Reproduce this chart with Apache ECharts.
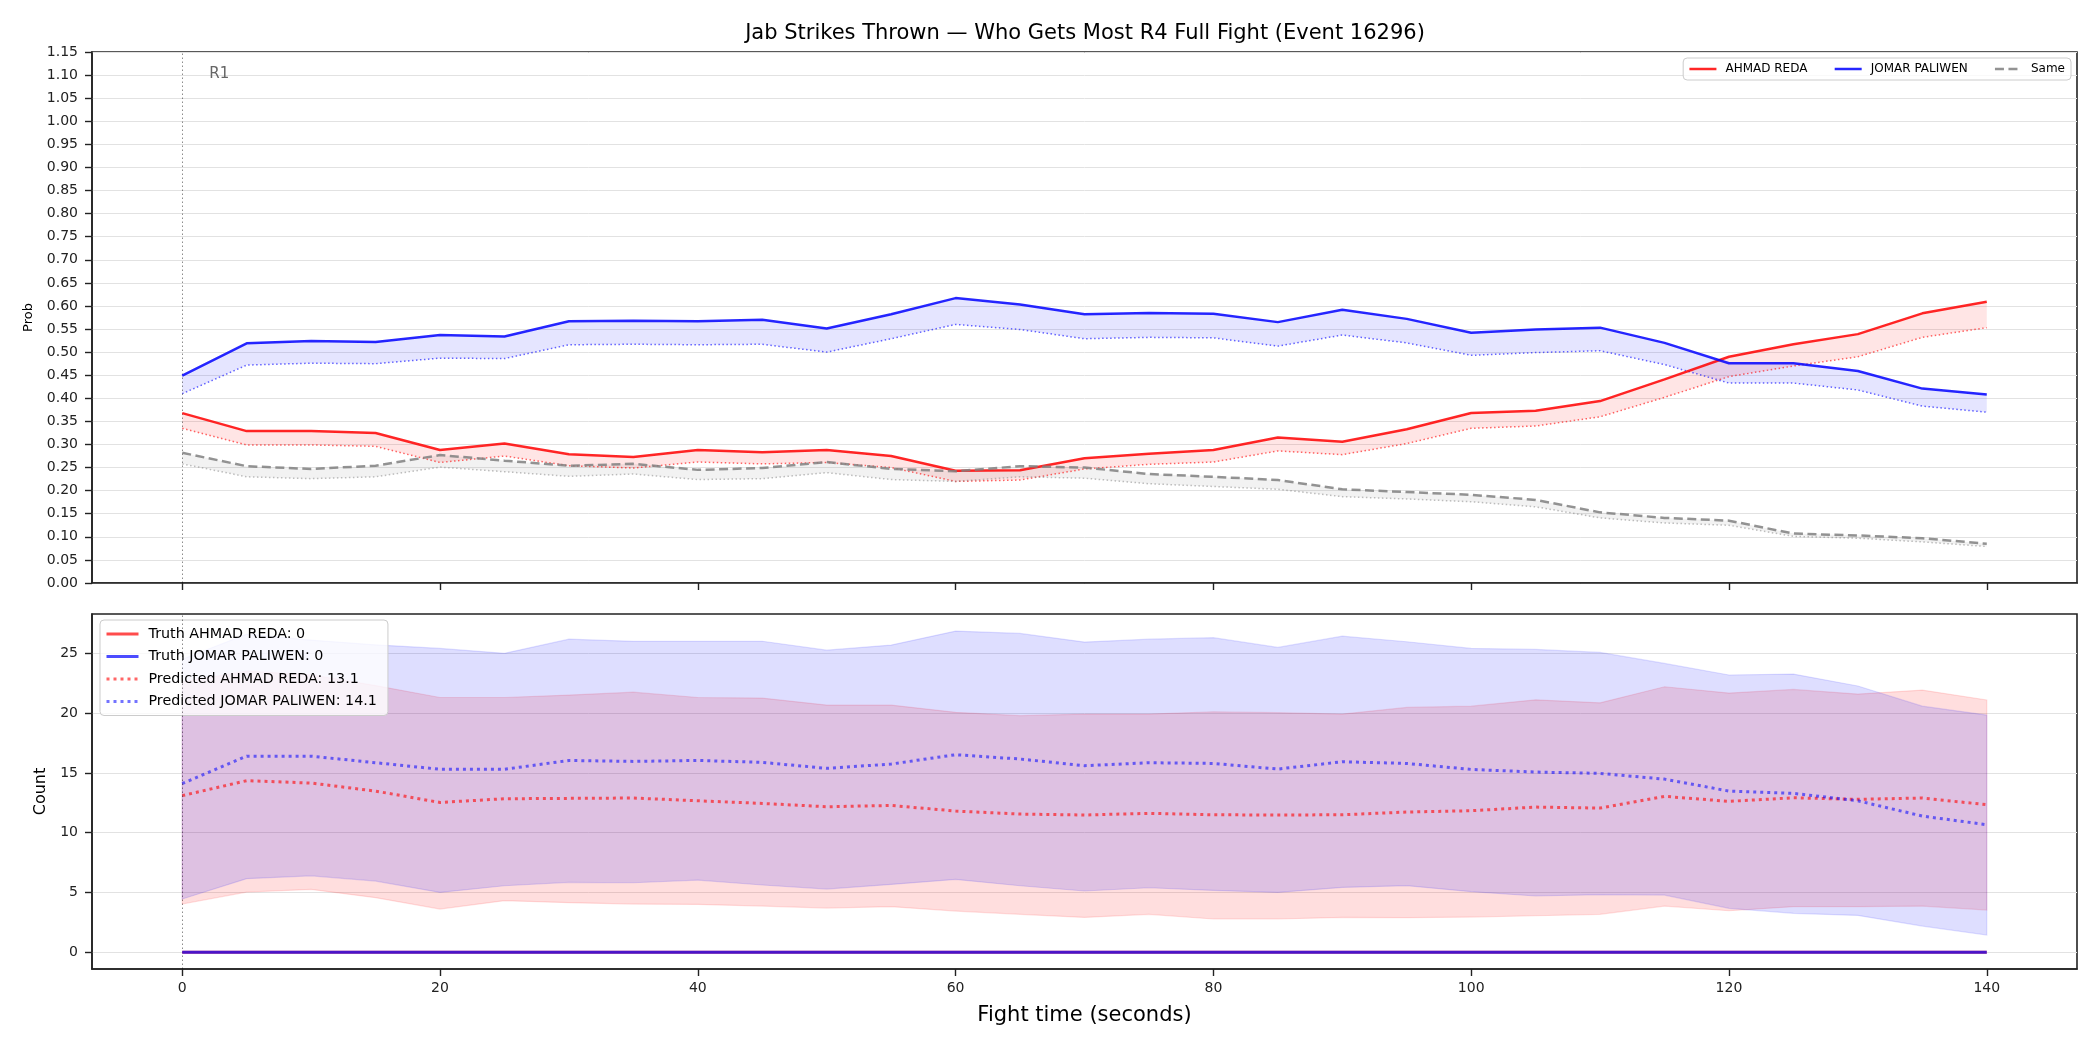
<!DOCTYPE html>
<html><head><meta charset="utf-8">
<script src="https://cdn.jsdelivr.net/npm/echarts@6/dist/echarts.min.js"></script>
<style>html,body{margin:0;padding:0;background:#fff}#c{width:2100px;height:1050px}</style>
</head><body><div id="c"></div>
<script>
// ---------- DATA ----------
const times = [0,5,10,15,20,25,30,35,40,45,50,55,60,65,70,75,80,85,90,95,100,105,110,115,120,125,130,135,140];
const fighterA = 'AHMAD REDA';
const fighterB = 'JOMAR PALIWEN';
const sameName = 'Same';
const roundStarts = [0];
const roundLabels = ['R1'];

// top panel: probabilities (solid) and lower dotted reference
const probA   = [0.368,0.329,0.329,0.325,0.288,0.302,0.279,0.273,0.288,0.283,0.288,0.275,0.243,0.244,0.270,0.280,0.288,0.315,0.306,0.333,0.368,0.373,0.394,0.441,0.490,0.517,0.539,0.584,0.609];
const probALo = [0.335,0.299,0.299,0.296,0.261,0.275,0.254,0.249,0.262,0.258,0.261,0.250,0.220,0.223,0.247,0.257,0.262,0.286,0.278,0.302,0.335,0.340,0.360,0.402,0.447,0.470,0.490,0.532,0.553];
const probB   = [0.449,0.519,0.524,0.522,0.537,0.534,0.567,0.568,0.567,0.570,0.551,0.582,0.617,0.603,0.582,0.585,0.583,0.565,0.592,0.572,0.542,0.549,0.553,0.520,0.476,0.476,0.459,0.421,0.408];
const probBLo = [0.410,0.472,0.476,0.475,0.487,0.486,0.516,0.517,0.516,0.517,0.500,0.529,0.560,0.549,0.529,0.532,0.531,0.513,0.537,0.520,0.493,0.499,0.503,0.473,0.433,0.433,0.418,0.383,0.370];
const probS   = [0.282,0.253,0.247,0.254,0.277,0.265,0.254,0.258,0.245,0.249,0.262,0.247,0.242,0.253,0.250,0.236,0.230,0.223,0.203,0.197,0.191,0.180,0.153,0.141,0.135,0.107,0.103,0.097,0.085];
const probSLo = [0.258,0.230,0.226,0.230,0.251,0.241,0.231,0.236,0.224,0.226,0.239,0.224,0.220,0.230,0.227,0.215,0.209,0.203,0.187,0.182,0.176,0.165,0.141,0.130,0.125,0.101,0.097,0.089,0.079];

// bottom panel: counts
const predA  = [13.1,14.35,14.15,13.48,12.53,12.84,12.87,12.9,12.67,12.45,12.17,12.28,11.81,11.56,11.48,11.62,11.5,11.48,11.5,11.73,11.84,12.14,12.06,13.04,12.62,12.92,12.79,12.9,12.34];
const predB  = [14.1,16.4,16.4,15.85,15.3,15.3,16.04,15.96,16.04,15.88,15.38,15.74,16.52,16.16,15.6,15.85,15.79,15.32,15.93,15.79,15.29,15.07,14.96,14.48,13.48,13.29,12.67,11.39,10.67];
const predALo = [4.04,5.04,5.26,4.57,3.62,4.32,4.15,4.04,4.01,3.87,3.7,3.82,3.45,3.18,2.92,3.18,2.79,2.79,2.92,2.9,2.95,3.06,3.18,3.87,3.48,3.82,3.82,3.87,3.54];
const predAHi = [22.6,23.5,23.2,22.3,21.3,21.3,21.5,21.75,21.3,21.25,20.67,20.67,20.06,19.78,19.92,19.92,20.11,20.03,19.92,20.47,20.58,21.11,20.86,22.2,21.67,21.98,21.59,21.92,21.09];
const predBLo = [4.46,6.16,6.4,5.96,5.01,5.57,5.85,5.82,6.04,5.63,5.29,5.68,6.1,5.57,5.13,5.4,5.18,5.01,5.43,5.57,5.07,4.71,4.82,4.79,3.68,3.26,3.09,2.2,1.45];
const predBHi = [24.5,26.6,26.1,25.7,25.4,24.99,26.18,26.0,26.0,26.0,25.26,25.68,26.85,26.66,25.93,26.18,26.3,25.49,26.43,25.96,25.4,25.32,25.07,24.15,23.18,23.26,22.26,20.58,19.83];
const truthA = [0,0,0,0,0,0,0,0,0,0,0,0,0,0,0,0,0,0,0,0,0,0,0,0,0,0,0,0,0];
const truthB = [0,0,0,0,0,0,0,0,0,0,0,0,0,0,0,0,0,0,0,0,0,0,0,0,0,0,0,0,0];

// ticks
const xTicks = [0,20,40,60,80,100,120,140];
const countTicks = [0,5,10,15,20,25];

// ---------- CHART ----------
const FONT = 'DejaVu Sans';
const chart = echarts.init(document.getElementById('c'), null, {renderer:'canvas'});
const pts = ys => times.map((t,i)=>[t, ys[i]]);

const nameTruthA = 'Truth ' + fighterA + ': ' + truthA[truthA.length-1];
const nameTruthB = 'Truth ' + fighterB + ': ' + truthB[truthB.length-1];
const namePredA = 'Predicted ' + fighterA + ': ' + predA[0].toFixed(1);
const namePredB = 'Predicted ' + fighterB + ': ' + predB[0].toFixed(1);

function band(gi, lower, upper, fill, stroke) {
  return {
    type: 'custom', coordinateSystem: 'cartesian2d', xAxisIndex: gi, yAxisIndex: gi,
    silent: true, animation: false, clip: false, data: [[0, 0]],
    renderItem: function (params, api) {
      const p = [];
      for (let i = 0; i < times.length; i++) p.push(api.coord([times[i], upper[i]]));
      for (let i = times.length - 1; i >= 0; i--) p.push(api.coord([times[i], lower[i]]));
      return { type: 'polygon', shape: { points: p },
        style: { fill: fill, stroke: stroke || null, lineWidth: stroke ? 1.2 : 0 } };
    }
  };
}
function line(gi, name, ys, color, width, type, z) {
  return {
    type: 'line', name: name, xAxisIndex: gi, yAxisIndex: gi, data: pts(ys),
    symbol: 'none', showSymbol: false, animation: false, silent: true, z: z || 3,
    lineStyle: { color: color, width: width, type: type || 'solid', cap: 'butt' },
    itemStyle: { color: color }
  };
}
function vmark(labelOn) {
  return {
    silent: true, animation: false, symbol: ['none', 'none'],
    lineStyle: { color: 'rgba(0,0,0,0.45)', width: 1, type: [1.5, 2.5] },
    label: labelOn ? { show: true, position: 'end', formatter: roundLabels[0],
      color: '#666', fontSize: 15, fontFamily: FONT, offset: [37, 35] } : { show: false },
    data: roundStarts.map(v => ({ xAxis: v }))
  };
}

const axisLineStyle = { show: true, onZero: false, lineStyle: { color: '#222', width: 1.6 } };
const tickStyle = { show: true, length: 7, inside: false, lineStyle: { color: '#222', width: 1.4 } };
const gridLine = { show: true, lineStyle: { color: '#e2e2e2', width: 1 } };

const sA = line(0, fighterA, probA, 'rgba(255,0,0,0.85)', 2.5, 'solid', 5);
sA.markLine = vmark(true);
const sTA = line(1, nameTruthA, truthA, 'rgba(255,0,0,0.7)', 3, 'solid', 6);
sTA.markLine = vmark(false);

const legendLine = { width: 'inherit', type: 'inherit', color: 'inherit' };

const option = {
  backgroundColor: '#fff',
  animation: false,
  textStyle: { fontFamily: FONT },
  title: {
    text: 'Jab Strikes Thrown \u2014 Who Gets Most R4 Full Fight (Event 16296)',
    left: 1085, top: 23, textAlign: 'center', padding: 0,
    textStyle: { fontFamily: FONT, fontSize: 21, fontWeight: 'normal', color: '#000' }
  },
  legend: [
    {
      data: [fighterA, fighterB, sameName],
      right: 29, top: 58, orient: 'horizontal',
      itemWidth: 27, itemHeight: 12, itemGap: 26,
      padding: [5, 6, 5, 5],
      itemStyle: { opacity: 0 },
      lineStyle: legendLine,
      backgroundColor: 'rgba(255,255,255,0.8)', borderColor: '#cccccc', borderWidth: 1, borderRadius: 4,
      textStyle: { fontFamily: FONT, fontSize: 12, color: '#000', padding: [0, 0, 0, 4] },
      selectedMode: false
    },
    {
      data: [nameTruthA, nameTruthB, namePredA, namePredB],
      left: 100, top: 620, orient: 'vertical',
      itemWidth: 32, itemHeight: 14, itemGap: 8.5,
      padding: [7, 11, 7, 5],
      itemStyle: { opacity: 0 },
      lineStyle: legendLine,
      backgroundColor: 'rgba(255,255,255,0.8)', borderColor: '#cccccc', borderWidth: 1, borderRadius: 4,
      textStyle: { fontFamily: FONT, fontSize: 14.3, color: '#000', padding: [0, 0, 0, 5] },
      selectedMode: false
    }
  ],
  grid: [
    { left: 92, right: 23, top: 52, height: 531, show: true, borderColor: '#222', borderWidth: 1.6, backgroundColor: 'transparent' },
    { left: 92, right: 23, top: 614, height: 355, show: true, borderColor: '#222', borderWidth: 1.6, backgroundColor: 'transparent' }
  ],
  xAxis: [
    { type: 'value', gridIndex: 0, min: -7, max: 147,
      axisLine: axisLineStyle, splitLine: { show: false },
      axisTick: Object.assign({}, tickStyle, { customValues: xTicks }),
      axisLabel: { show: false, customValues: xTicks } },
    { type: 'value', gridIndex: 1, min: -7, max: 147,
      name: 'Fight time (seconds)', nameLocation: 'middle', nameGap: 36,
      nameTextStyle: { fontFamily: FONT, fontSize: 21, color: '#000' },
      axisLine: axisLineStyle, splitLine: { show: false },
      axisTick: Object.assign({}, tickStyle, { customValues: xTicks }),
      axisLabel: { show: true, customValues: xTicks, margin: 12, fontFamily: FONT, fontSize: 14, color: '#222' } }
  ],
  yAxis: [
    { type: 'value', gridIndex: 0, min: 0, max: 1.15, interval: 0.05,
      name: 'Prob', nameLocation: 'middle', nameGap: 57,
      nameTextStyle: { fontFamily: FONT, fontSize: 13, color: '#000' },
      axisLine: axisLineStyle, axisTick: tickStyle, splitLine: gridLine,
      axisLabel: { margin: 14, fontFamily: FONT, fontSize: 14, color: '#222', formatter: v => v.toFixed(2) } },
    { type: 'value', gridIndex: 1, min: -1.39, max: 28.28,
      name: 'Count', nameLocation: 'middle', nameGap: 39,
      nameTextStyle: { fontFamily: FONT, fontSize: 16, color: '#000' },
      axisLine: axisLineStyle, splitLine: gridLine,
      axisTick: Object.assign({}, tickStyle, { customValues: countTicks }),
      axisLabel: { customValues: countTicks, margin: 14, fontFamily: FONT, fontSize: 14, color: '#222' } }
  ],
  series: [
    band(0, probALo, probA, 'rgba(255,0,0,0.1)'),
    band(0, probBLo, probB, 'rgba(0,0,255,0.1)'),
    band(0, probSLo, probS, 'rgba(128,128,128,0.1)'),
    sA,
    line(0, fighterA + ' lower', probALo, 'rgba(255,0,0,0.6)', 1.5, [1.5, 2.5], 4),
    line(0, fighterB, probB, 'rgba(0,0,255,0.85)', 2.5, 'solid', 5),
    line(0, fighterB + ' lower', probBLo, 'rgba(0,0,255,0.6)', 1.5, [1.5, 2.5], 4),
    line(0, sameName, probS, 'rgba(128,128,128,0.85)', 2.5, [9, 4.5], 5),
    line(0, sameName + ' lower', probSLo, 'rgba(128,128,128,0.5)', 1.5, [1.5, 2.5], 4),

    band(1, predALo, predAHi, 'rgba(255,0,0,0.13)', 'rgba(255,0,0,0.12)'),
    band(1, predBLo, predBHi, 'rgba(0,0,255,0.13)', 'rgba(0,0,255,0.12)'),
    line(1, namePredA, predA, 'rgba(255,0,0,0.6)', 3, [3, 4], 4),
    line(1, namePredB, predB, 'rgba(0,0,255,0.55)', 3, [3, 4], 4),
    sTA,
    line(1, nameTruthB, truthB, 'rgba(0,0,255,0.7)', 3, 'solid', 7)
  ]
};
chart.setOption(option);
</script></body></html>
